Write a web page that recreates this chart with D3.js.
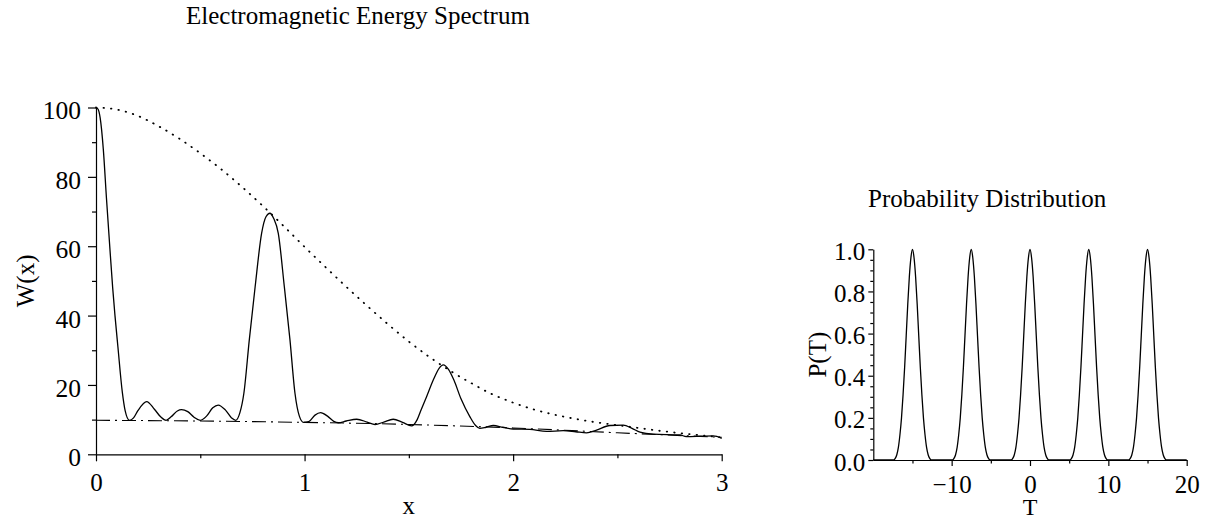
<!DOCTYPE html>
<html>
<head>
<meta charset="utf-8">
<script src="https://cdn.jsdelivr.net/npm/d3@7"></script>
<style>
  body { margin: 0; background: #fff; }
  svg text { font-family: "Liberation Serif", "Times New Roman", serif; fill: #000; }
</style>
</head>
<body>
<svg id="chart" width="1215" height="528"></svg>
<script>
'use strict';

// Electromagnetic energy spectrum, W(x)
var specX = [0, 0.01, 0.02, 0.035, 0.05, 0.067, 0.08, 0.091, 0.105, 0.126, 0.14, 0.16, 0.18, 0.2, 0.243, 0.28, 0.31, 0.336,
  0.36, 0.39, 0.41, 0.44, 0.47, 0.5, 0.53, 0.56, 0.586, 0.62, 0.65, 0.67, 0.69, 0.709, 0.735, 0.763, 0.794, 0.815, 0.834,
  0.852, 0.874, 0.903, 0.93, 0.954, 0.975, 0.995, 1.02, 1.05, 1.077, 1.11, 1.14, 1.162, 1.2, 1.25, 1.3, 1.338, 1.38, 1.425,
  1.47, 1.513, 1.54, 1.56, 1.585, 1.617, 1.645, 1.665, 1.69, 1.716, 1.75, 1.793, 1.82, 1.84, 1.87, 1.905, 1.95, 2.0, 2.08,
  2.16, 2.24, 2.3, 2.352, 2.4, 2.464, 2.528, 2.57, 2.608, 2.672, 2.8, 2.83, 2.9, 2.96, 3.0];
var specW = [100, 99.5, 97, 88, 74, 59, 48, 40, 31, 18, 12.5, 9.8, 10.5, 12.5, 15.2, 13, 10.8, 9.8,
  10.8, 12.5, 12.9, 12.3, 10.7, 9.8, 11, 13.4, 14.2, 12.8, 10.5, 9.8, 12, 17.6, 33, 48.3, 63.7, 68.5, 69.5,
  68, 63.7, 48.3, 33, 17.6, 11, 9.2, 9.4, 11.3, 12, 11, 9.5, 9.1, 9.6, 10.1, 9.3, 8.6, 9.3, 10.1,
  9.2, 8.2, 10, 13, 16.6, 21.4, 24.8, 25.8, 24.5, 21.4, 16, 10.8, 8.3, 7.5, 7.8, 8.3, 7.8, 7.3, 7.2,
  6.6, 6.8, 6.5, 6.2, 7, 8.3, 8.4, 7.5, 6.4, 5.8, 5.6, 5.1, 5.2, 5.3, 4.6];

// dotted upper envelope
var envX = [0, 0.1, 0.2, 0.3, 0.4, 0.5, 0.6, 0.7, 0.8, 0.9, 1.0, 1.1, 1.2, 1.3, 1.4, 1.5, 1.6, 1.7, 1.8, 1.9, 2.0,
  2.1, 2.2, 2.3, 2.4, 2.5, 2.6, 2.7, 2.8, 2.9, 3.0];
var envW = [100, 99.4, 97.6, 94.6, 91.0, 86.8, 82.2, 77.1, 71.6, 65.8, 59.8, 54.0, 48.3, 42.8, 37.5, 32.5, 28.0, 24.0, 20.5,
  17.3, 14.9, 12.9, 11.4, 10.2, 9.2, 8.4, 7.6, 6.8, 6.1, 5.5, 4.9];

// dash-dot lower baseline
var baseX = [0, 0.5, 1, 1.5, 2, 2.5, 3];
var baseW = [9.8, 9.6, 9.2, 8.6, 7.6, 6.2, 4.9];

var xTicks = [0, 1, 2, 3];
var xMinor = [0.5, 1.5, 2.5];
var wTicks = [0, 20, 40, 60, 80, 100];
var wMinor = [10, 30, 50, 70, 90];

// Probability distribution: one peak profile repeated at each centre
var peakCenters = [-15, -7.5, 0, 7.5, 15];
var peakOffsets = [-2.4, -2.2, -2.0, -1.8, -1.6, -1.4, -1.2, -1.0, -0.8, -0.6, -0.4, -0.2, 0,
  0.2, 0.4, 0.6, 0.8, 1.0, 1.2, 1.4, 1.6, 1.8, 2.0, 2.2, 2.4];
var peakShape = [0, 0.008, 0.025, 0.06, 0.12, 0.2, 0.31, 0.44, 0.59, 0.74, 0.87, 0.96, 1.0,
  0.96, 0.87, 0.74, 0.59, 0.44, 0.31, 0.2, 0.12, 0.06, 0.025, 0.008, 0];

var tTicks = [-10, 0, 10, 20];
var tMinor = [-15, -5, 5, 15];
var pTicks = [0, 0.2, 0.4, 0.6, 0.8, 1.0];
var pMinor = [0.05, 0.1, 0.15, 0.25, 0.3, 0.35, 0.45, 0.5, 0.55, 0.65, 0.7, 0.75, 0.85, 0.9, 0.95];

var svg = d3.select('#chart');

function drawMinor(g, axis) {
  g.call(axis);
  g.select('.domain').remove();
  g.selectAll('text').remove();
}

function styleAxis(g, size) {
  g.selectAll('.domain, line').attr('stroke', '#000').attr('stroke-width', 1.2);
  g.selectAll('text').attr('font-size', size).attr('font-family', null).attr('fill', '#000');
}

// ---- left panel ----
var xL = d3.scaleLinear().domain([0, 3]).range([96, 721.7]);
var yL = d3.scaleLinear().domain([0, 100]).range([454.3, 107.5]);

var left = svg.append('g');

left.append('g')
  .attr('transform', 'translate(0,' + yL(0) + ')')
  .call(d3.axisBottom(xL).tickValues(xTicks).tickFormat(d3.format('d')).tickSize(7).tickSizeOuter(0).tickPadding(12))
  .call(styleAxis, 25);
left.append('g')
  .attr('transform', 'translate(0,' + yL(0) + ')')
  .call(drawMinor, d3.axisBottom(xL).tickValues(xMinor).tickSize(4))
  .call(styleAxis, 25);

left.append('g')
  .attr('transform', 'translate(' + xL(0) + ',0)')
  .call(d3.axisLeft(yL).tickValues(wTicks).tickFormat(d3.format('d')).tickSize(8).tickSizeOuter(0).tickPadding(7))
  .call(styleAxis, 25.5)
  .selectAll('text').attr('dy', '0.45em');
left.append('g')
  .attr('transform', 'translate(' + xL(0) + ',0)')
  .call(drawMinor, d3.axisLeft(yL).tickValues(wMinor).tickSize(4))
  .call(styleAxis, 25);

var lineL = d3.line()
  .x(function(d) { return xL(d[0]); })
  .y(function(d) { return yL(d[1]); })
  .curve(d3.curveMonotoneX);

left.append('path')
  .datum(d3.zip(envX, envW))
  .attr('d', lineL)
  .attr('fill', 'none')
  .attr('stroke', '#000')
  .attr('stroke-width', 1.8)
  .attr('stroke-linecap', 'round')
  .attr('stroke-dasharray', '0.5,7');

left.append('path')
  .datum(d3.zip(baseX, baseW))
  .attr('d', lineL)
  .attr('fill', 'none')
  .attr('stroke', '#000')
  .attr('stroke-width', 1.1)
  .attr('stroke-dasharray', '14,5,2,5');

left.append('path')
  .datum(d3.zip(specX, specW))
  .attr('d', lineL)
  .attr('fill', 'none')
  .attr('stroke', '#000')
  .attr('stroke-width', 1.3);

left.append('text')
  .attr('x', 186)
  .attr('y', 24)
  .attr('font-size', 25)
  .text('Electromagnetic Energy Spectrum');

left.append('text')
  .attr('x', (xL.range()[0] + xL.range()[1]) / 2)
  .attr('y', 514)
  .attr('text-anchor', 'middle')
  .attr('font-size', 25)
  .text('x');

left.append('text')
  .attr('transform', 'translate(34,' + ((yL.range()[0] + yL.range()[1]) / 2) + ') rotate(-90)')
  .attr('text-anchor', 'middle')
  .attr('font-size', 25)
  .text('W(x)');

// ---- right panel ----
var xR = d3.scaleLinear().domain([-20, 20]).range([873.3, 1186.7]);
var yR = d3.scaleLinear().domain([0, 1]).range([460, 249.3]);

var right = svg.append('g');

right.append('g')
  .attr('transform', 'translate(0,' + yR(0) + ')')
  .call(d3.axisBottom(xR).tickValues(tTicks).tickSize(6).tickSizeOuter(0).tickPadding(9))
  .call(styleAxis, 25);
right.append('g')
  .attr('transform', 'translate(0,' + yR(0) + ')')
  .call(drawMinor, d3.axisBottom(xR).tickValues(tMinor).tickSize(3.5))
  .call(styleAxis, 25);

right.append('g')
  .attr('transform', 'translate(' + xR(-20) + ',0)')
  .call(d3.axisLeft(yR).tickValues(pTicks).tickFormat(d3.format('.1f')).tickSize(5).tickSizeOuter(0).tickPadding(3))
  .call(styleAxis, 25)
  .selectAll('text').attr('dy', '0.4em');
right.append('g')
  .attr('transform', 'translate(' + xR(-20) + ',0)')
  .call(drawMinor, d3.axisLeft(yR).tickValues(pMinor).tickSize(3))
  .call(styleAxis, 25);

var probPts = [[-20, 0]];
peakCenters.forEach(function(c) {
  peakOffsets.forEach(function(o, i) { probPts.push([c + o, peakShape[i]]); });
});
probPts.push([20, 0]);

var lineR = d3.line()
  .x(function(d) { return xR(d[0]); })
  .y(function(d) { return yR(d[1]); })
  .curve(d3.curveMonotoneX);

right.append('path')
  .datum(probPts)
  .attr('d', lineR)
  .attr('fill', 'none')
  .attr('stroke', '#000')
  .attr('stroke-width', 1.3);

right.append('text')
  .attr('x', 868)
  .attr('y', 207)
  .attr('font-size', 25)
  .text('Probability Distribution');

right.append('text')
  .attr('x', (xR.range()[0] + xR.range()[1]) / 2)
  .attr('y', 515)
  .attr('text-anchor', 'middle')
  .attr('font-size', 24)
  .text('T');

right.append('text')
  .attr('transform', 'translate(826,' + ((yR.range()[0] + yR.range()[1]) / 2) + ') rotate(-90)')
  .attr('text-anchor', 'middle')
  .attr('font-size', 25)
  .text('P(T)');
</script>
</body>
</html>
